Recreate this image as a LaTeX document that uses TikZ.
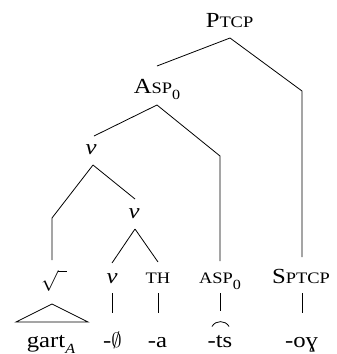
\documentclass[tikz,border=0pt]{standalone}
\usepackage{fontspec}
\setmainfont{Liberation Serif}[FakeStretch=1.15]
% faked small capitals and lowered subscripts
\newcommand{\smc}[1]{{\fontsize{16}{16}\selectfont #1}}
\newcommand{\lowsub}[1]{\raisebox{-0.3em}{\fontsize{14}{14}\selectfont #1}}

\begin{document}
\begin{tikzpicture}[x=1pt,y=-1pt,
  lbl/.style={anchor=base,inner sep=0pt,font=\fontsize{21.5}{21.5}\selectfont},
  branch/.style={line width=0.8pt,line join=miter}]
\useasboundingbox (0,0) rectangle (337,354);

% category labels
\node[lbl] (ptcp)   at (229.5,27) {P\smc{TCP}};
\node[lbl] (asp)    at (157,93)   {A\smc{SP}\lowsub{0}};
\node[lbl] (vtop)   at (91,154.5) {\textit{v}};
\node[lbl] (vmid)   at (134,218.5){\textit{v}};
\node[lbl,anchor=center] (root) at (54,281) {$\sqrt{\vphantom{x}\hspace{8.5pt}}$};
\node[lbl] (vlow)   at (112,283)  {\textit{v}};
\node[lbl] (th)     at (158,283)  {\smc{TH}};
\node[lbl] (asplow) at (220,283)  {\smc{ASP}\lowsub{0}};
\node[lbl] (sptcp)  at (301,283)  {S\smc{PTCP}};

% exponents
\node[lbl] (gart) at (51,347)    {gart\lowsub{\textit{A}}};
\node[lbl] (null) at (112.5,347) {-$\emptyset$};
\node[lbl] (a)    at (157.5,347) {-a};
\node[lbl] (ts)   at (220,347)   {-ts};
\node[lbl] (og)   at (301.5,347) {-o\symbol{"0263}};
% tie bar over the affricate
\coordinate (tie-l) at (212,326.5);
\coordinate (tie-r) at (229,326.5);
\draw[line width=0.8pt] (tie-l) .. controls (215.5,320) and (225.5,320) .. (tie-r);

% branch points
\coordinate (ptcp-b)  at (230,38);
\coordinate (asp-t)   at (157,66);
\coordinate (sp-bend) at (302,91);
\coordinate (sp-t)    at (302,257);
\coordinate (asp-b)   at (157,105);
\coordinate (vtop-t)  at (94,136);
\coordinate (al-bend) at (220,156);
\coordinate (al-t)    at (220,261);
\coordinate (vtop-b)  at (93,165);
\coordinate (rt-bend) at (52,218);
\coordinate (root-t)  at (52,260);
\coordinate (vmid-t)  at (135,199);
\coordinate (vmid-b)  at (135,229);
\coordinate (vlow-t)  at (112,263);
\coordinate (th-t)    at (158,262);

\draw[branch] (ptcp-b) -- (asp-t);
\draw[branch] (ptcp-b) -- (sp-bend) -- (sp-t);
\draw[branch] (asp-b) -- (vtop-t);
\draw[branch] (asp-b) -- (al-bend) -- (al-t);
\draw[branch] (vtop-b) -- (rt-bend) -- (root-t);
\draw[branch] (vtop-b) -- (vmid-t);
\draw[branch] (vmid-b) -- (vlow-t);
\draw[branch] (vmid-b) -- (th-t);

% lines to the exponents
\coordinate (vlow-b)   at (112,293); \coordinate (null-t) at (112,313);
\coordinate (th-b)     at (158,293); \coordinate (a-t)    at (158,313);
\coordinate (asplow-b) at (220,293); \coordinate (ts-t)   at (220,311);
\coordinate (sptcp-b)  at (302,293); \coordinate (og-t)   at (302,313);
\draw[branch] (vlow-b) -- (null-t);
\draw[branch] (th-b) -- (a-t);
\draw[branch] (asplow-b) -- (ts-t);
\draw[branch] (sptcp-b) -- (og-t);

% roof over the root
\coordinate (roof-top) at (52,304);
\coordinate (roof-l)   at (16,322);
\coordinate (roof-r)   at (88,322);
\draw[branch] (roof-top) -- (roof-l) -- (roof-r) -- cycle;
\end{tikzpicture}
\end{document}
